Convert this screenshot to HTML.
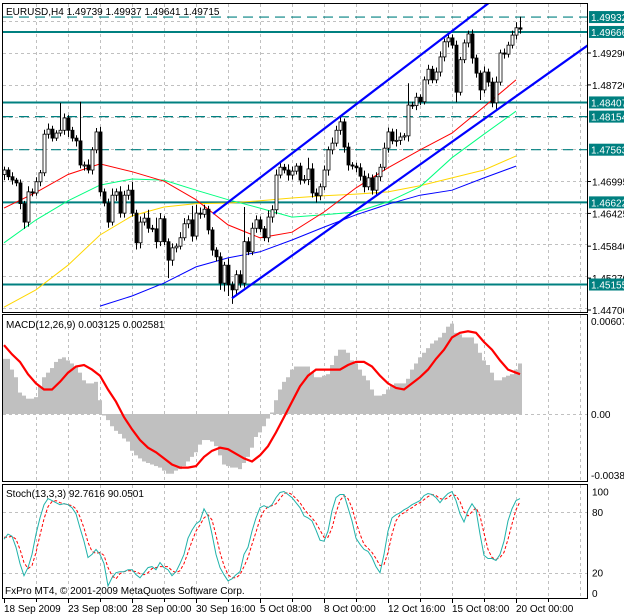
<!DOCTYPE html>
<html><head><meta charset="utf-8"><style>
html,body{margin:0;padding:0;background:#fff;}
svg{display:block;font-family:"Liberation Sans",sans-serif;font-size:10px;}
</style></head><body>
<svg id="c" width="624" height="615" viewBox="0 0 624 615" xmlns="http://www.w3.org/2000/svg">
<rect x="0" y="0" width="624" height="615" fill="#fff"/>
</svg>
<script>
const closes=[1.4720,1.4708,1.4702,1.4697,1.4660,1.4627,1.4681,1.4679,1.4699,1.4715,
1.4784,1.4793,1.4777,1.4786,1.4791,1.4813,1.4791,1.4777,1.4772,1.4729,
1.4729,1.4720,1.4756,1.4788,1.4681,1.4661,1.4627,1.4675,1.4681,1.4643,
1.4675,1.4684,1.4643,1.4590,1.4627,1.4634,1.4616,1.4615,1.4592,1.4633,
1.4592,1.4559,1.4581,1.4584,1.4599,1.4624,1.4631,1.4602,1.4643,1.4641,
1.4650,1.4613,1.4577,1.4565,1.4518,1.4550,1.4515,1.4506,1.4533,1.4518,
1.4592,1.4574,1.4616,1.4631,1.4615,1.4599,1.4636,1.4649,1.4711,1.4725,
1.4720,1.4711,1.4718,1.4727,1.4702,1.4703,1.4722,1.4679,1.4674,1.4690,
1.4720,1.4756,1.4768,1.4791,1.4806,1.4761,1.4729,1.4727,1.4724,1.4709,
1.4690,1.4706,1.4684,1.4708,1.4725,1.4759,1.4788,1.4772,1.4773,1.4779,
1.4781,1.4836,1.4835,1.4850,1.4842,1.4881,1.4900,1.4881,1.4895,1.4922,
1.4949,1.4956,1.4943,1.4859,1.4917,1.4947,1.4963,1.4920,1.4893,1.4863,
1.4895,1.4877,1.4840,1.4877,1.4929,1.4927,1.4943,1.4961,1.4974,1.49715];
const firstOpen=1.4712;
const upWickPips=[6,5,8,4,6,5,10,6,8,5, 8,10,6,5,49,8,5,6,5,70, 6,10,5,7,9,6,8,12,6,10, 8,10,15,6,10,9,15,6,20,10,
5,6,8,5,10,10,8,25,15,10, 8,6,5,5,8,6,12,6,8,8, 62,8,10,8,6,5,12,8,10,10, 6,10,8,5,6,8,20,10,8,6,
8,6,10,8,10,6,8,5,6,8, 10,8,6,8,6,10,8,6,20,8, 5,39,6,8,5,6,8,6,8,10, 6,8,6,8,5,6,6,8,6,5, 10,6,8,10,6,8,6,8,10,20];
const downWickPips=[10,6,8,6,10,12,8,6,5,8, 6,8,6,5,6,8,12,6,10,6, 10,6,8,6,8,6,10,6,10,8, 8,8,6,12,10,6,8,6,12,8,
6,32,10,8,6,5,8,10,6,8, 6,8,10,8,12,15,20,25,10,8, 8,6,6,8,6,6,8,10,8,6, 6,10,8,6,8,6,10,8,12,8,
6,10,8,6,8,10,10,6,8,8, 10,6,8,10,8,6,8,6,10,8, 6,10,6,8,6,5,8,6,6,8, 8,10,6,18,6,6,8,10,8,18, 6,8,8,12,6,8,6,6,8,8];
const maRed=[1.4652,1.4680,1.4712,1.4731,1.4717,1.4700,1.4667,1.4622,1.4599,1.4609,1.4645,1.4688,1.4724,1.4756,1.4786,1.4833,1.4881];
const maGreen=[1.4590,1.4631,1.4665,1.4693,1.4704,1.4702,1.4684,1.4667,1.4652,1.4636,1.4640,1.4645,1.4663,1.4690,1.4742,1.4784,1.4825];
const maYellow=[1.4475,1.4506,1.4550,1.4604,1.4638,1.4654,1.4660,1.4661,1.4665,1.4670,1.4674,1.4677,1.4681,1.4692,1.4706,1.4720,1.4745];
const maBlue=[null,null,null,1.4477,1.4495,1.4518,1.4547,1.4563,1.4574,1.4595,1.4618,1.4640,1.4659,1.4675,1.4684,1.4706,1.4727];
const trendUpper=[[52.25,1.4642],[121.5,1.5020]];
const trendLower=[[57,1.4491],[146,1.4943]];
const levelPrices=[1.49932,1.49666,1.48407,1.48154,1.47563,1.46622,1.45155];
const levelLabels=["1.49932","1.49666","1.48407","1.48154","1.47563","1.46622","1.45155"];
const levelSolid=[false,true,true,false,false,true,true];
const priceTicks=[1.4929,1.4872,1.46995,1.46425,1.4584,1.4527,1.4470];
const priceTickLabels=["1.49290","1.48720","1.46995","1.46425","1.45840","1.45270","1.44700"];
const macdHist=[0.0036,0.0036,0.0029,0.0024,0.0014,0.0012,0.0010,0.0010,0.0011,0.0018,
0.0024,0.0027,0.0030,0.0034,0.0036,0.0037,0.0035,0.0033,0.0031,0.0027,
0.0022,0.0020,0.0020,0.0021,0.0009,-0.0001,-0.0004,-0.0008,-0.0011,-0.0013,
-0.0016,-0.0018,-0.0024,-0.0027,-0.0029,-0.0031,-0.0032,-0.0033,-0.0034,-0.0035,
-0.0037,-0.0039,-0.0039,-0.0037,-0.0036,-0.0034,-0.0031,-0.0028,-0.0025,-0.0020,
-0.0017,-0.0017,-0.0018,-0.0021,-0.0027,-0.0033,-0.0034,-0.0035,-0.0035,-0.0036,
-0.0032,-0.0028,-0.0022,-0.0015,-0.0012,-0.0008,-0.0003,0.0001,0.0009,0.0016,
0.0021,0.0024,0.0029,0.0031,0.0031,0.0031,0.0031,0.0027,0.0024,0.0024,
0.0025,0.0026,0.0032,0.0038,0.0042,0.0042,0.0040,0.0035,0.0033,0.0029,
0.0025,0.0022,0.0016,0.0012,0.0012,0.0013,0.0016,0.0019,0.0020,0.0020,
0.0020,0.0023,0.0029,0.0033,0.0037,0.0040,0.0043,0.0046,0.0048,0.0050,
0.0053,0.0057,0.0059,0.0053,0.0052,0.0050,0.0050,0.0050,0.0046,0.0040,
0.0035,0.0032,0.0027,0.0022,0.0022,0.0024,0.0025,0.0026,0.0029,0.0033];
const macdSignal=[0.0045,0.0039,0.0034,0.0026,0.0020,0.0016,0.0016,0.0021,0.0027,0.0031,
0.0032,0.0029,0.0025,0.0016,0.0008,-0.0002,-0.0010,-0.0017,-0.0022,-0.0025,
-0.0029,-0.0033,-0.0035,-0.0035,-0.0034,-0.0028,-0.0024,-0.0022,-0.0023,-0.0026,
-0.0029,-0.0031,-0.0027,-0.0021,-0.0012,-0.0002,0.0008,0.0018,0.0025,0.0029,
0.0029,0.0029,0.0029,0.0032,0.0034,0.0034,0.0031,0.0025,0.0020,0.0017,
0.0016,0.0020,0.0024,0.0029,0.0036,0.0042,0.0050,0.0053,0.0054,0.0053,
0.0047,0.0042,0.0035,0.0029,0.0027,0.0026];
const stochMain=[53,58,56,45,29,17,25,38,58,74, 87,93,91,89,87,88,87,84,78,64, 51,35,38,43,38,29,7,15,20,21,
21,23,23,18,15,20,25,26,23,30, 25,23,17,21,29,38,54,62,68,71, 83,76,58,38,25,18,12,14,18,21,
38,45,61,74,84,86,84,87,94,99, 100,97,94,89,84,76,74,71,62,52, 51,61,81,94,97,97,84,71,54,48,
43,41,35,26,20,38,61,74,77,79, 82,84,87,89,91,96,98,97,94,89, 94,98,100,91,78,70,81,88,82,58,
37,34,34,32,38,51,71,83,91,93];
const stochSignal=[55,55,56,53,43,30,24,27,40,57, 73,85,90,91,89,88,87,86,83,75, 64,50,41,39,40,37,25,17,14,19,
21,22,22,21,19,18,20,24,25,26, 26,26,22,20,22,29,40,51,61,67, 74,77,72,57,40,27,18,15,15,18,
26,35,48,60,73,81,85,86,88,93, 98,99,97,93,89,83,78,74,69,62, 55,55,64,79,91,96,93,84,70,58,
48,44,40,34,27,28,40,58,71,77, 79,82,84,87,89,92,95,97,96,93, 92,94,97,96,90,80,76,80,84,76,
59,43,35,33,35,40,53,68,82,90];
const dateLabels=["18 Sep 2009","23 Sep 08:00","28 Sep 00:00","30 Sep 16:00","5 Oct 08:00","8 Oct 00:00","12 Oct 16:00","15 Oct 08:00","20 Oct 00:00"];

const NS="http://www.w3.org/2000/svg";
const svg=document.getElementById('c');
const TEAL="#008080";
function xB(i){return 4+4*i;}
function yP(p){return 53+(1.4929-p)*5599;}
function yM(v){return 414-v*15314;}
function yS(v){return 593-v*1.015;}
function el(tag,attrs,parent){const e=document.createElementNS(NS,tag);for(const k in attrs)e.setAttribute(k,attrs[k]);(parent||svg).appendChild(e);return e;}

const defs=el('defs',{});
const cp1=el('clipPath',{id:'cMain'},defs);el('rect',{x:3,y:4,width:584,height:308},cp1);
const cp2=el('clipPath',{id:'cMacd'},defs);el('rect',{x:3,y:315,width:584,height:166},cp2);
const cp3=el('clipPath',{id:'cSto'},defs);el('rect',{x:3,y:485,width:584,height:113},cp3);

const grid=el('g',{stroke:'#c0c0c0','stroke-width':1,'stroke-dasharray':'3,3',fill:'none'});


for(let k=1;k<=18;k++){const x=xB(8*k)+0.5;
 el('line',{x1:x,y1:4,x2:x,y2:312},grid);el('line',{x1:x,y1:315,x2:x,y2:481},grid);el('line',{x1:x,y1:485,x2:x,y2:598},grid);}
[1.4986,1.4929,1.4872,1.4815,1.4758,1.47010,1.4644,1.4587,1.4530,1.4473].forEach(p=>{const y=Math.round(yP(p))+0.5;el('line',{x1:3,y1:y,x2:587,y2:y},grid);});
[0].forEach(v=>{const y=Math.round(yM(v))+0.5;el('line',{x1:3,y1:y,x2:587,y2:y},grid);});
[80,20].forEach(v=>{const y=Math.round(yS(v))+0.5;el('line',{x1:3,y1:y,x2:587,y2:y},grid);});

const lv=el('g',{'clip-path':'url(#cMain)'});


levelPrices.forEach((p,i)=>{const y=yP(p);
 const l=el('line',{x1:3,y1:y,x2:587,y2:y,stroke:TEAL,'stroke-width':levelSolid[i]?2:1.2},lv);
 if(!levelSolid[i])l.setAttribute('stroke-dasharray','10,6');
 
 });

const maG=el('g',{'clip-path':'url(#cMain)',fill:'none','stroke-width':1});


function maLine(arr,color,name){let pts=[];arr.forEach((v,k)=>{if(v!==null)pts.push(xB(8*k)+','+yP(v).toFixed(1));});
 const pl=el('polyline',{points:pts.join(' '),stroke:color},maG);
 
 }
maLine(maBlue,'#0000ff','ma-blue');maLine(maYellow,'#ffd700','ma-yellow');maLine(maGreen,'#00ff7f','ma-green');maLine(maRed,'#ff0000','ma-red');

const cg=el('g',{'clip-path':'url(#cMain)'});


closes.forEach((c,i)=>{const o=i===0?firstOpen:closes[i-1];
 const hi=Math.max(o,c)+upWickPips[i]/10000, lo=Math.min(o,c)-downWickPips[i]/10000;
 const x=xB(i);
 const w=el('line',{x1:x+0.5,y1:yP(hi),x2:x+0.5,y2:yP(lo),stroke:'#000','stroke-width':1},cg);
 
 
 const top=yP(Math.max(o,c)),bot=yP(Math.min(o,c));
 const r=el('rect',{x:x-1,y:top,width:3,height:Math.max(1,bot-top),fill:c>=o?'#fff':'#000',stroke:'#000','stroke-width':0.8},cg);
 
 });

const tg=el('g',{'clip-path':'url(#cMain)',stroke:'#0000ff','stroke-width':2.2});


[trendUpper,trendLower].forEach(t=>{const l=el('line',{x1:xB(t[0][0]),y1:yP(t[0][1]),x2:xB(t[1][0]),y2:yP(t[1][1])},tg);
 
 });

const mg=el('g',{'clip-path':'url(#cMacd)'});


macdHist.forEach((v,i)=>{const y0=yM(0),y1=yM(v);
 const r=el('rect',{x:xB(i)-2,y:Math.min(y0,y1),width:4,height:Math.abs(y1-y0),fill:'#c0c0c0'},mg);
 
 });
const sp=macdSignal.map((v,k)=>xB(Math.min(2*k,129))+','+yM(v).toFixed(1)).join(' ');
const sl=el('polyline',{points:sp,fill:'none',stroke:'#ff0000','stroke-width':2.2,'clip-path':'url(#cMacd)'});



const s1=el('polyline',{points:stochSignal.map((v,i)=>xB(i)+','+yS(v).toFixed(1)).join(' '),fill:'none',stroke:'#ff0000','stroke-width':1,'stroke-dasharray':'3,2','clip-path':'url(#cSto)'});


const s2=el('polyline',{points:stochMain.map((v,i)=>xB(i)+','+yS(v).toFixed(1)).join(' '),fill:'none',stroke:'#20b2aa','stroke-width':1,'clip-path':'url(#cSto)'});



const fr=el('g',{fill:'none',stroke:'#000','stroke-width':1});


el('rect',{x:2.5,y:3.5,width:585,height:309},fr);
el('rect',{x:2.5,y:314.5,width:585,height:167},fr);
el('rect',{x:2.5,y:484.5,width:585,height:114},fr);

const ax=el('g',{fill:'#000'});


priceTicks.forEach((p,i)=>{const y=yP(p);
 el('line',{x1:587,y1:y,x2:591,y2:y,stroke:'#000'},ax);
 const t=el('text',{x:592,y:y+4},ax);t.textContent=priceTickLabels[i];
 
 });
levelPrices.forEach((p,i)=>{const y=yP(p);
 const r=el('rect',{x:589,y:y-6,width:35,height:12,fill:TEAL},ax);
 
 
 const t=el('text',{x:591,y:y+4,fill:'#fff'},ax);t.textContent=levelLabels[i];
 
 });
[['0.006073',325],['0.00',418],['-0.00386',479]].forEach(a=>{const t=el('text',{x:591,y:a[1]},ax);t.textContent=a[0];
 
 });
[[100,'100'],[80,'80'],[20,'20'],[0,'0']].forEach(a=>{const t=el('text',{x:592,y:yS(a[0])+4},ax);t.textContent=a[1];
 
 });

const dg=el('g',{fill:'#000'});


dateLabels.forEach((d,k)=>{const x=xB(16*k);
 el('line',{x1:x+0.5,y1:599,x2:x+0.5,y2:603,stroke:'#000'},dg);
 const t=el('text',{x:x,y:612},dg);t.textContent=d;
 
 });
for(let k=1;k<=18;k+=2){const x=xB(8*k)+0.5;el('line',{x1:x,y1:599,x2:x,y2:602,stroke:'#000'},dg);}

[['EURUSD,H4  1.49739 1.49937 1.49641 1.49715',6,15,'chart-title'],['MACD(12,26,9) 0.003125 0.002581',6,328,'macd-title'],['Stoch(13,3,3) 92.7616 90.0501',6,497,'stoch-title'],['FxPro MT4, © 2001-2009 MetaQuotes Software Corp.',5,594,'copyright-text']].forEach(a=>{
 const t=el('text',{x:a[1],y:a[2],fill:'#000'});t.textContent=a[0];
 
 });
</script>
</body></html>
